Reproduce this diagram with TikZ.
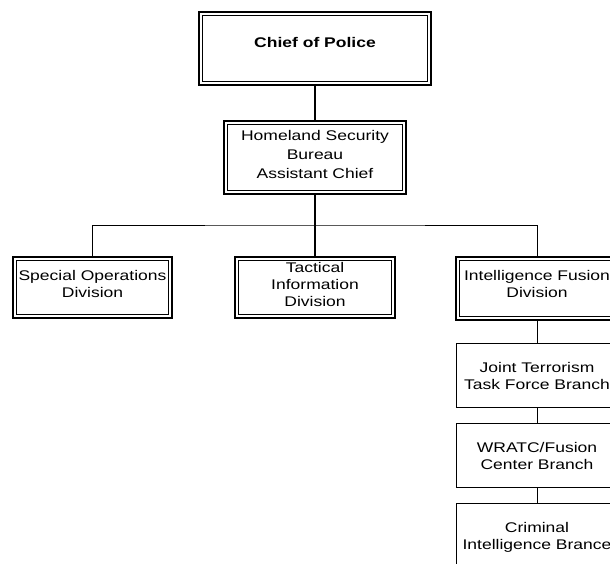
\documentclass[tikz,border=0pt]{standalone}
\usepackage{fontspec}
\setmainfont[FakeStretch=1.25]{Liberation Sans}
\begin{document}
\begin{tikzpicture}[x=1pt,y=-1pt,
  box/.style={draw, line width=0.8pt, inner sep=0pt, outer sep=0pt},
  dbox/.style={box, line width=1.4pt},
  inner/.style={line width=0.6pt},
  txt/.style={align=center, font=\fontsize{14}{17}\selectfont, inner sep=0pt},
  conn/.style={line width=0.9pt},
  mconn/.style={line width=1.4pt}]
\useasboundingbox (0,0) rectangle (610,564);
\clip (0,0) rectangle (610,564);
% boxes
\node[dbox, minimum width=232pt, minimum height=73pt] (chief) at (315,48.5) {};
\node[dbox, minimum width=182pt, minimum height=73pt] (hs) at (315,157.5) {};
\node[dbox, minimum width=159pt, minimum height=61pt] (so) at (92.5,287.5) {};
\node[dbox, minimum width=160pt, minimum height=61pt] (ti) at (315,287.5) {};
\node[dbox, minimum width=162pt, minimum height=63pt] (ifd) at (537,288.5) {};
\node[box, minimum width=162pt, minimum height=64pt] (jt) at (537,375) {};
\node[box, minimum width=162pt, minimum height=64pt] (wr) at (537,455) {};
\node[box, minimum width=162pt, minimum height=64pt] (ci) at (537,535) {};
% inner lines of double boxes
\foreach \n in {chief,hs,so,ti,ifd}
  \draw[inner] ([xshift=3.5pt,yshift=-3.5pt]\n.north west) rectangle ([xshift=-3.5pt,yshift=3.5pt]\n.south east);
% texts
\node[txt, font=\fontsize{14}{17}\selectfont\bfseries] (chief-t) at (315,42) {Chief of Police};
\node[txt, font=\fontsize{14}{19}\selectfont] (hs-t) at (315,154) {Homeland Security\\Bureau\\Assistant Chief};
\node[txt] (so-t) at (92.5,284) {Special Operations\\Division};
\node[txt] (ti-t) at (315,284.5) {Tactical\\Information\\Division};
\node[txt] (ifd-t) at (537,284) {Intelligence Fusion\\Division};
\node[txt] (jt-t) at (537,376) {Joint Terrorism\\Task Force Branch};
\node[txt] (wr-t) at (537,455.5) {WRATC/Fusion\\Center Branch};
\node[txt] (ci-t) at (537,537) {Criminal\\Intelligence Brance};
% connectors
\coordinate (j) at (315,225);
\draw[mconn] (chief.south) -- (hs.north);
\draw[mconn] (hs.south) -- (ti.north);
\draw[conn] (so.north) |- (j) -| (ifd.north);
\draw[conn] (ifd.south) -- (jt.north);
\draw[conn] (jt.south) -- (wr.north);
\draw[conn] (wr.south) -- (ci.north);
\end{tikzpicture}
\end{document}
